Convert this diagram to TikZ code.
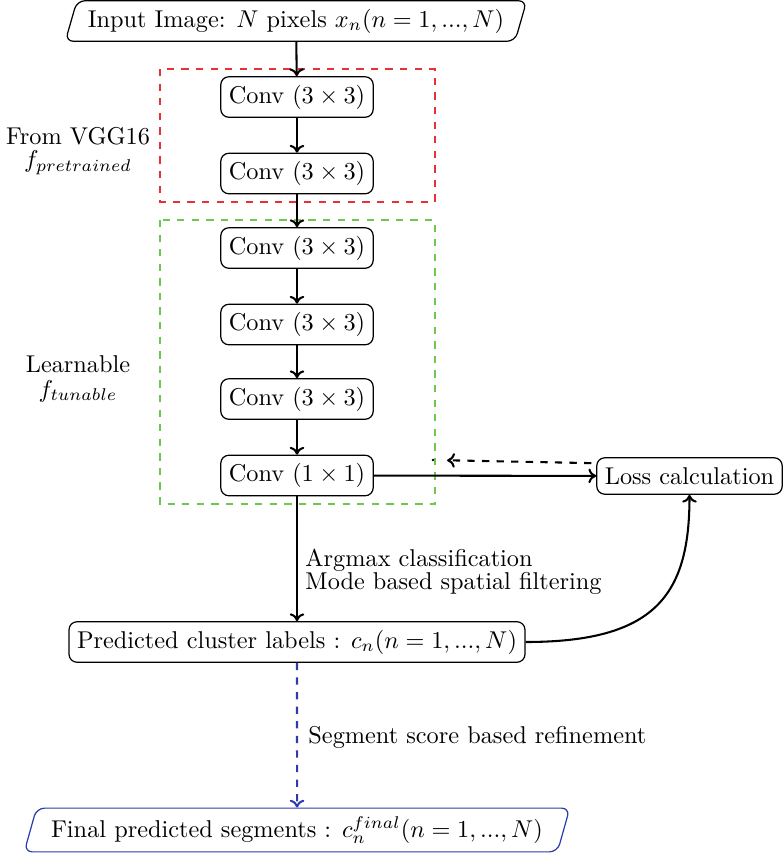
\documentclass[tikz,border=0pt]{standalone}
\usetikzlibrary{shapes.geometric,calc,arrows.meta}
\definecolor{boxred}{RGB}{230,50,50}
\definecolor{boxgreen}{RGB}{110,200,80}
\definecolor{flowblue}{RGB}{45,60,170}
\begin{document}
\begin{tikzpicture}[x=0.4115pt,y=-0.4115pt,
  convbox/.style={draw,rounded corners=3.3pt,minimum height=16.2pt,inner xsep=3.3pt,line width=0.5pt},
  iobox/.style={draw,trapezium,trapezium left angle=74,trapezium right angle=106,trapezium stretches body,rounded corners=3.3pt,line width=0.5pt,inner xsep=4.5pt},
  flow/.style={-{To[length=3.2pt,width=6pt]},line width=0.85pt},
  groupbox/.style={dashed,line width=0.5pt}]
\useasboundingbox (0,0) rectangle (783,856);
% group boxes
\draw[groupbox,boxred] (160,69) rectangle (435,202);
\draw[groupbox,boxgreen] (160,220) rectangle (435,504);
% nodes
\node[iobox,minimum height=15.6pt] (in) at (296,21) {Input Image: $N$ pixels $x_n(n=1,...,N)$};
\node[convbox] (c1) at (297,97) {Conv $(3\times3)$};
\node[convbox] (c2) at (297,173.5) {Conv $(3\times3)$};
\node[convbox] (c3) at (297,248) {Conv $(3\times3)$};
\node[convbox] (c4) at (297,324.5) {Conv $(3\times3)$};
\node[convbox] (c5) at (297,399) {Conv $(3\times3)$};
\node[convbox] (c6) at (297,475.5) {Conv $(1\times1)$};
\node[convbox,minimum height=15pt] (loss) at (689.5,476) {Loss calculation};
\node[convbox] (pred) at (297,642) {Predicted cluster labels : $c_n(n=1,...,N)$};
\node[iobox,draw=flowblue,minimum height=18pt,inner xsep=6pt] (fin) at (297,830) {Final predicted segments : $c_n^{final}(n=1,...,N)$};
% side labels
\node[align=center] (vgg) at (78,151) {From VGG16\\[-2.5pt] $f_{pretrained}$};
\node[align=center] (learn) at (78,379) {Learnable\\[-2pt] $f_{tunable}$};
\node[align=left,anchor=west,inner sep=0pt] (argl) at (305,572) {Argmax classification\\[-2.5pt] Mode based spatial filtering};
\node[anchor=west,inner sep=0pt] (segl) at (308,737) {Segment score based refinement};
% connectors
\draw[flow] (in) -- (c1);
\draw[flow] (c1) -- (c2);
\draw[flow] (c2) -- (c3);
\draw[flow] (c3) -- (c4);
\draw[flow] (c4) -- (c5);
\draw[flow] (c5) -- (c6);
\draw[flow] (c6) -- (loss);
\draw[flow] (c6) -- (pred);
\coordinate (fbk) at (433,460);
\draw[flow,dashed,shorten >=5.8pt] ([xshift=-2pt,yshift=5.3pt]loss.west) -- (fbk);
\fill (fbk) circle (0.6pt);
\draw[flow] (pred.east) .. controls +(130,0) and +(0,100) .. (loss.south);
\draw[flow,dashed,flowblue] (pred) -- (fin);
\end{tikzpicture}
\end{document}
